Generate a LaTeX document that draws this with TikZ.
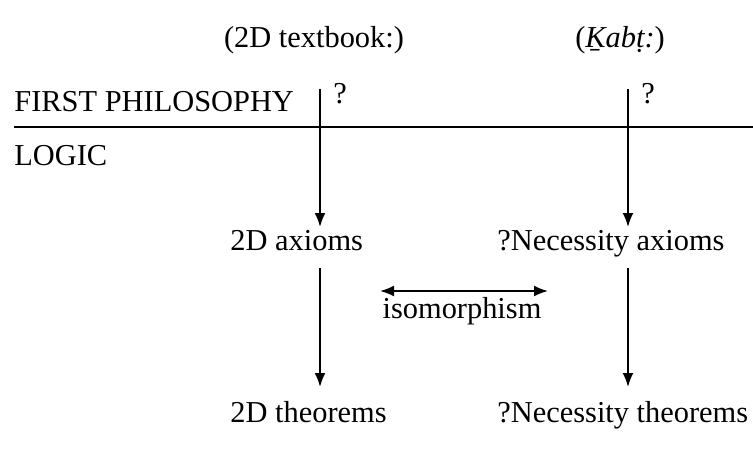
\documentclass[tikz,border=0pt]{standalone}
\usepackage{fontspec}
\setmainfont{Liberation Serif}
\usepackage{tikz}
\usetikzlibrary{arrows.meta, positioning, calc}
\tikzset{
  lbl/.style={font=\fontsize{15.2}{18}\selectfont, inner sep=0pt, anchor=base},
  lblw/.style={lbl, anchor=base west},
  arrow/.style={-{Latex[length=7pt,width=5.5pt]}, line width=0.95pt},
  twoarrow/.style={{Latex[length=7pt,width=5.5pt]}-{Latex[length=7pt,width=5.5pt]}, line width=0.95pt},
  line/.style={line width=0.95pt}
}
\begin{document}
\begin{tikzpicture}[x=0.5pt, y=-0.5pt]
  \useasboundingbox (0,0) rectangle (753,451);
  % column heads
  \node[lbl] (hdtext) at (314,47) {(2D textbook:)};
  \node[lbl] (hdkabt) at (620,47) {(\textit{Ḵabṭ:})};
  % levels
  \node[lblw] (first) at (14,111) {FIRST PHILOSOPHY};
  \node[lblw] (logic) at (14,165) {LOGIC};
  \coordinate (sepl) at (14,127);
  \coordinate (sepr) at (753,127);
  \draw[line] (sepl) -- (sepr);
  % entries
  \node[lblw] (ax2d) at (230,250) {2D axioms};
  \node[lblw] (axnec) at (497,250) {?Necessity axioms};
  \node[lblw] (th2d) at (230,422) {2D theorems};
  \node[lblw] (thnec) at (497,422) {?Necessity theorems};
  % question marks
  \node[lblw] (qleft) at (333,103) {?};
  \node[lblw] (qright) at (641,103) {?};
  \coordinate (ltop) at (320,89);
  \coordinate (rtop) at (628,89);
  \coordinate (lend) at (320,227);
  \coordinate (rend) at (628,227);
  \coordinate (lmid) at (320,268);
  \coordinate (rmid) at (628,268);
  \coordinate (lbot) at (320,387);
  \coordinate (rbot) at (628,387);
  % arrows
  \draw[arrow] (ltop) -- (lend);
  \draw[arrow] (rtop) -- (rend);
  \draw[arrow] (lmid) -- (lbot);
  \draw[arrow] (rmid) -- (rbot);
  % isomorphism
  \node[lbl] (iso) at (462,318) {isomorphism};
  \coordinate (isol) at (380,291);
  \coordinate (isor) at (548,291);
  \draw[twoarrow] (isol) -- (isor);
\end{tikzpicture}
\end{document}
